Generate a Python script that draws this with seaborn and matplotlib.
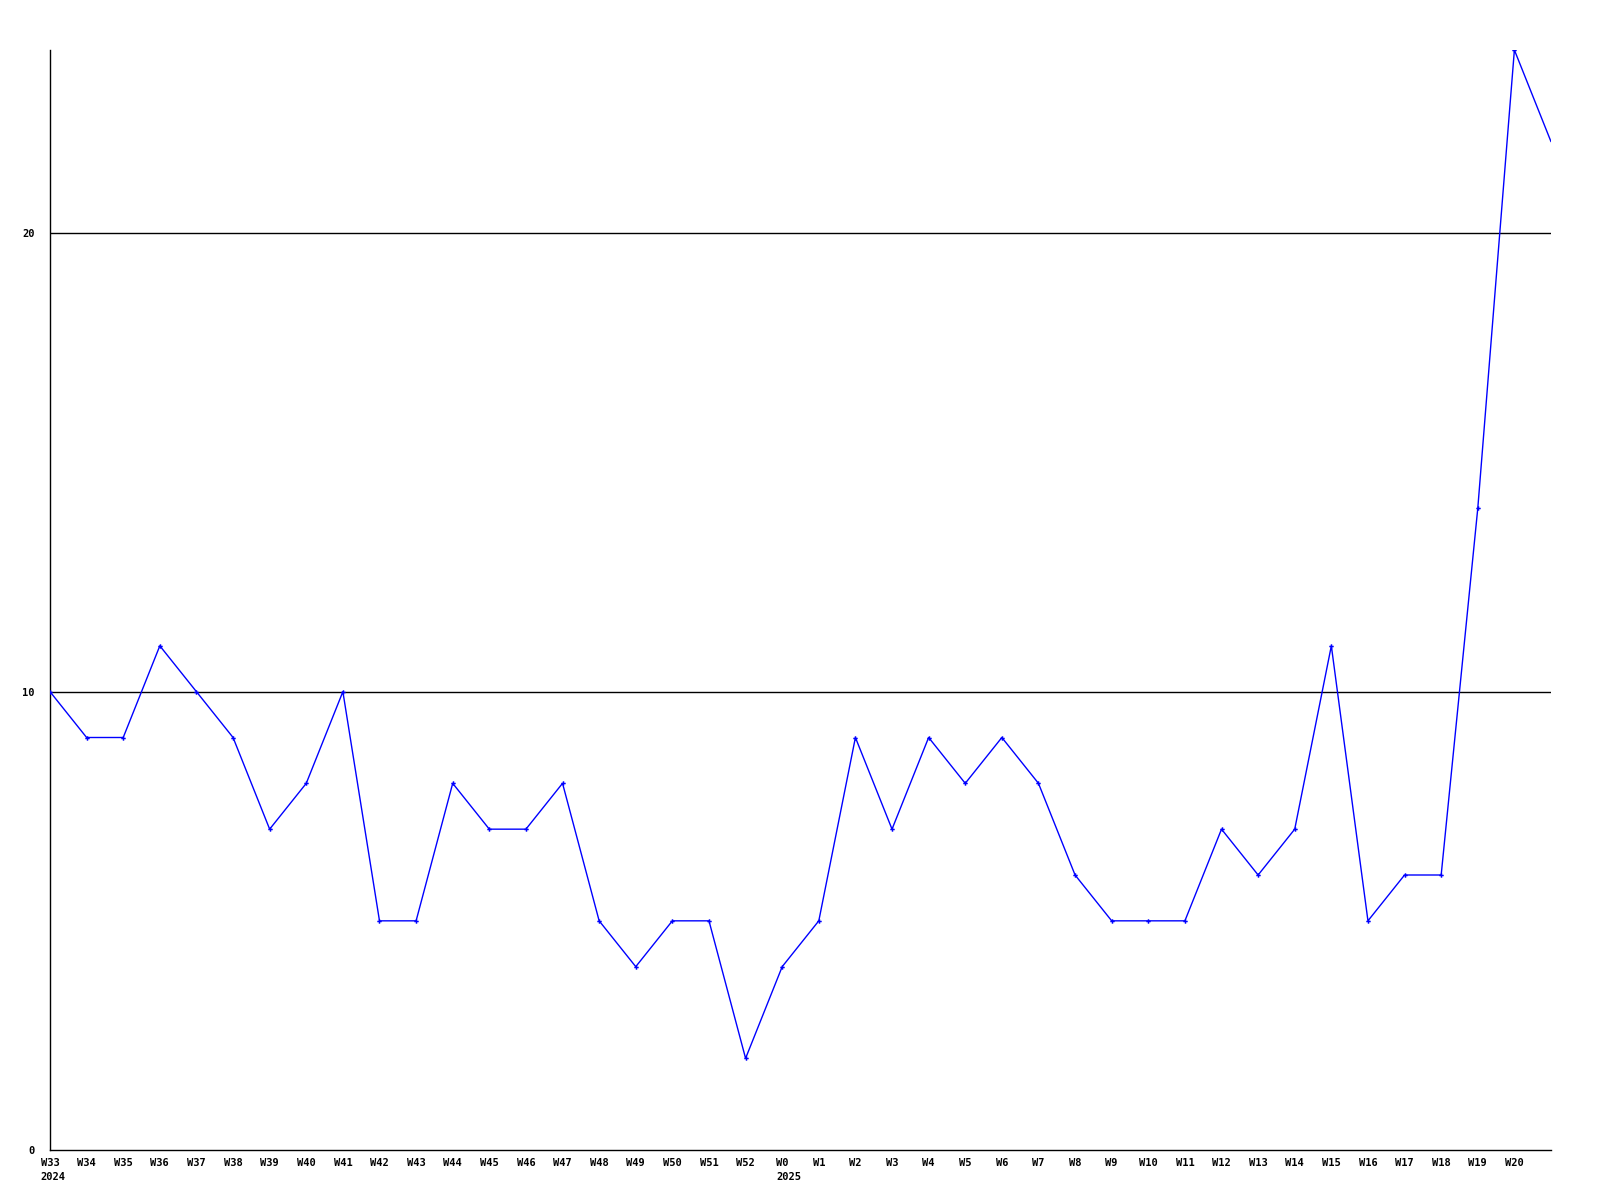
import matplotlib
matplotlib.use("Agg")
import matplotlib.pyplot as plt
import seaborn as sns
import pandas as pd

weeks = ["W33", "W34", "W35", "W36", "W37", "W38", "W39", "W40", "W41", "W42",
         "W43", "W44", "W45", "W46", "W47", "W48", "W49", "W50", "W51", "W52",
         "W0", "W1", "W2", "W3", "W4", "W5", "W6", "W7", "W8", "W9", "W10",
         "W11", "W12", "W13", "W14", "W15", "W16", "W17", "W18", "W19", "W20", ""]
values = [10, 9, 9, 11, 10, 9, 7, 8, 10, 5,
          5, 8, 7, 7, 8, 5, 4, 5, 5, 2,
          4, 5, 9, 7, 9, 8, 9, 8, 6, 5, 5,
          5, 7, 6, 7, 11, 5, 6, 6, 14, 24, 22]
year_labels = {0: "2024", 20: "2025"}
y_ticks = [0, 10, 20]

df = pd.DataFrame({"idx": range(len(values)), "value": values})

sns.set_style("white")
plt.rcParams['font.family'] = ['DejaVu Sans Mono']
plt.rcParams['text.color'] = 'black'
plt.rcParams['xtick.color'] = 'black'
plt.rcParams['ytick.color'] = 'black'

fig = plt.figure(figsize=(16, 12), dpi=100)
ax = fig.add_axes([50/1600, 1 - 1150/1200, (1551-50)/1600, 1100/1200])

for yv in y_ticks[1:]:
    ax.axhline(yv, color="black", linewidth=1, zorder=1)

sns.lineplot(data=df, x="idx", y="value", ax=ax, color="#0000FF", linewidth=1,
             marker="P", markersize=3.2, markeredgewidth=0, zorder=3,
             markevery=list(range(len(values) - 1)))

ax.set_xlim(0, len(values) - 1)
ax.set_ylim(0, 24)
ax.set_xlabel("")
ax.set_ylabel("")

ax.set_xticks(range(len(weeks)))
ax.set_xticklabels(weeks, fontsize=7.5, fontweight="bold", ha="center", va="top",
                   color="black")
fs = 7.5
char_w = 0.602 * fs
for i, yr in year_labels.items():
    ax.annotate(yr, xy=(i, 0), xycoords=("data", "axes fraction"),
                xytext=(-len(weeks[i]) * char_w / 2, -15.5), textcoords="offset points",
                ha="left", va="top", fontsize=fs, fontweight="bold", color="black",
                annotation_clip=False)

ax.set_yticks(y_ticks)
ax.set_yticklabels([str(v) for v in y_ticks], fontsize=7.5, fontweight="bold", color="black")
ax.tick_params(axis="x", length=0, pad=6)
ax.tick_params(axis="y", length=0, pad=11)

for s in ["top", "right"]:
    ax.spines[s].set_visible(False)
for s in ["left", "bottom"]:
    ax.spines[s].set_color("black")
    ax.spines[s].set_linewidth(1)

fig.savefig("out.png", dpi=100, facecolor="white")
